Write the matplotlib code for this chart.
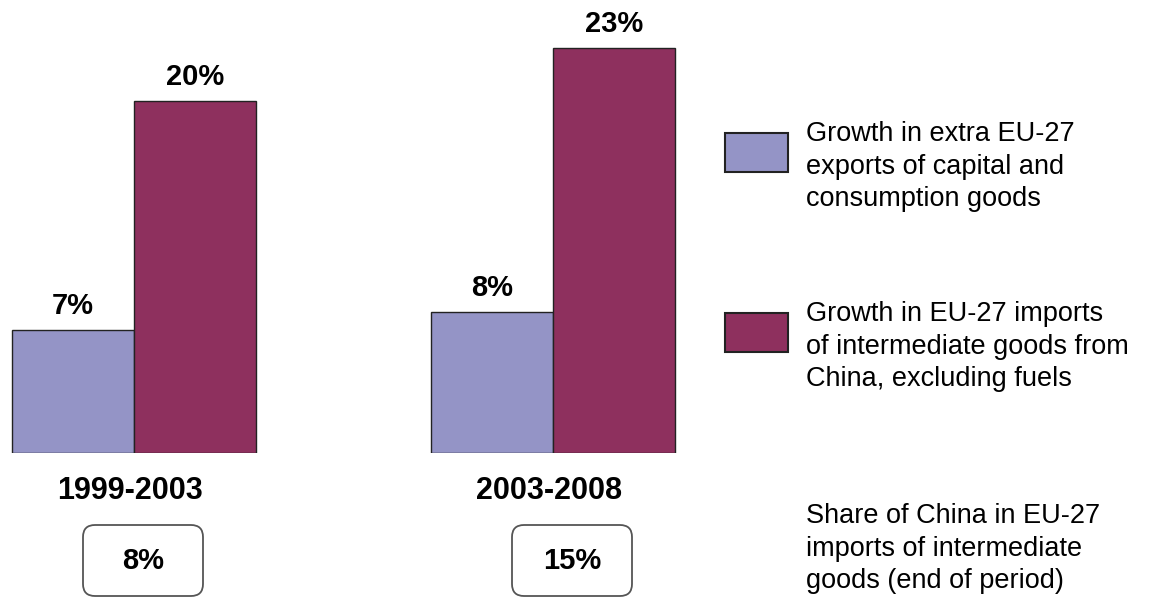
import matplotlib
matplotlib.use("Agg")
import matplotlib.pyplot as plt
from matplotlib.patches import FancyBboxPatch, Rectangle

plt.rcParams['font.family'] = ['Liberation Sans', 'DejaVu Sans']

# data
periods = ["1999-2003", "2003-2008"]
exports_growth = [7, 8]      # extra EU-27 exports of capital and consumption goods
imports_growth = [20, 23]    # EU-27 imports of intermediate goods from China
china_share = ["8%", "15%"]  # share of China in EU-27 intermediate imports (end of period)
series_labels = ["Growth in extra EU-27\nexports of capital and\nconsumption goods",
                 "Growth in EU-27 imports\nof intermediate goods from\nChina, excluding fuels"]
share_label = "Share of China in EU-27\nimports of intermediate\ngoods (end of period)"

blue = "#9494C6"
red = "#8E305E"

W, H = 1149, 599
fig = plt.figure(figsize=(W / 100, H / 100), dpi=100)

# bars axes (pixel layout: baseline at y=453, right edge at x=700)
base = 453
px_per_pct = 17.6
ax = fig.add_axes([0, 1 - base / H, 700 / W, base / H])
ax.set_ylim(0, base / px_per_pct)
ax.set_xlim(-134 / 419, (700 - 134) / 419)
ax.axis("off")

x = [0, 1]
w = 0.29
b1 = ax.bar([i - w / 2 for i in x], exports_growth, w, color=blue, edgecolor="#222222", linewidth=1)
b2 = ax.bar([i + w / 2 for i in x], imports_growth, w, color=red, edgecolor="#222222", linewidth=1)

for bars, vals in ((b1, exports_growth), (b2, imports_growth)):
    for r, v in zip(bars, vals):
        ax.annotate(f"{v}%", (r.get_x() + r.get_width() / 2, v), xytext=(0, 7),
                    textcoords="offset points", ha="center", va="bottom",
                    fontsize=21, fontweight="bold", clip_on=False)

for i, p in zip(x, periods):
    ax.text(i - 0.01, -(491 - base) / px_per_pct, p, ha="center", va="center",
            fontsize=22, fontweight="bold", clip_on=False)

# overlay in pixel coords for boxes and legend
ov = fig.add_axes([0, 0, 1, 1])
ov.set_xlim(0, W)
ov.set_ylim(H, 0)
ov.axis("off")
ov.patch.set_alpha(0)

for cx, s in zip([143, 572], china_share):
    ov.add_patch(FancyBboxPatch((cx - 48, 537), 96, 47, boxstyle="round,pad=12,rounding_size=12",
                                facecolor="white", edgecolor="#555555", linewidth=1.3))
    ov.text(cx, 561, s, ha="center", va="center", fontsize=21, fontweight="semibold")

for y0, col, lab in zip([133, 313], [blue, red], series_labels):
    ov.add_patch(Rectangle((725, y0), 63, 39, facecolor=col, edgecolor="#222222", linewidth=1.5))
    ov.text(806, y0 - 12, lab, ha="left", va="top", fontsize=19.5, linespacing=1.33)

ov.text(806, 503, share_label, ha="left", va="top", fontsize=19.5, linespacing=1.33)

fig.savefig("out.png", dpi=100)
